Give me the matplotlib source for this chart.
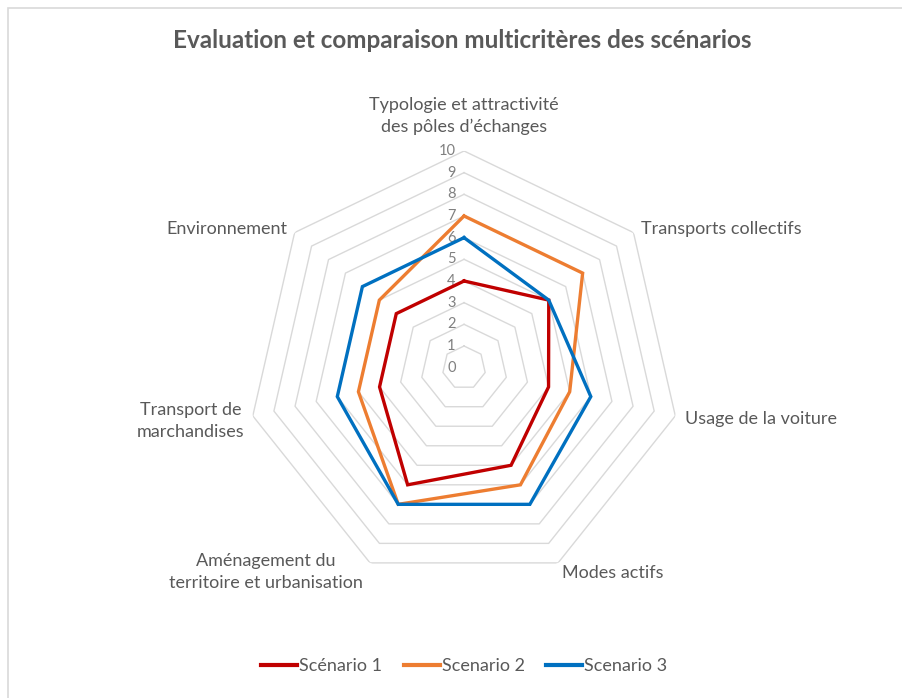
import numpy as np
import matplotlib.pyplot as plt
from matplotlib.patches import Rectangle
from matplotlib.lines import Line2D
import matplotlib.transforms as mtransforms

plt.rcParams["font.family"] = ["Lato", "DejaVu Sans"]

TEXT = "#595959"
GRID = "#D9D9D9"

criteres = [
    "Typologie et attractivité\ndes pôles d’échanges",
    "Transports collectifs",
    "Usage de la voiture",
    "Modes actifs",
    "Aménagement du\nterritoire et urbanisation",
    "Transport de\nmarchandises",
    "Environnement",
]
scenario_1 = [4, 5, 4, 5, 6, 4, 4]
scenario_2 = [7, 7, 5, 6, 7, 5, 5]
scenario_3 = [6, 5, 6, 7, 7, 6, 6]
noms = ["Scénario 1", "Scenario 2", "Scenario 3"]
couleurs = ["#C00000", "#ED7D31", "#0070C0"]
graduations = list(range(0, 11))

n = len(criteres)
angles = np.linspace(0, 2 * np.pi, n, endpoint=False)
angles_fermes = np.append(angles, angles[0])

fig = plt.figure(figsize=(9.03, 6.98), dpi=100)
fig.patches.append(Rectangle((8 / 903, -0.1), 1.2, 1 - 8.5 / 698 + 0.1,
                             transform=fig.transFigure, fill=False,
                             edgecolor=GRID, linewidth=1.2))

ax = fig.add_axes([0.2739, 0.1628, 0.48, 0.6209], projection="polar")
ax.set_theta_offset(np.pi / 2)
ax.set_theta_direction(-1)
ax.set_ylim(0, 10)
ax.grid(False)
ax.spines["polar"].set_visible(False)
ax.set_xticks([])
ax.set_yticks([])
ax.patch.set_alpha(0)

# anneaux heptagonaux
for g in graduations[1:]:
    ax.plot(angles_fermes, [g] * (n + 1), color=GRID, linewidth=1.0, zorder=1)

# graduations le long de l'axe vertical
decal = mtransforms.offset_copy(ax.transData, fig=fig, x=-6, y=0, units="points")
for g in graduations:
    ax.text(0, g, str(g), transform=decal, ha="right", va="center",
            fontsize=10.5, color="#808080")

series = [scenario_1, scenario_2, scenario_3]
for vals, nom, c in zip(series, noms, couleurs):
    v = list(vals) + [vals[0]]
    ax.plot(angles_fermes, v, color=c, linewidth=2.4, label=nom, zorder=3,
            solid_joinstyle="miter")

# étiquettes des critères
placements = [
    (10.4, "center", "bottom", "center"),
    (10.45, "left", "center", "left"),
    (10.45, "left", "center", "left"),
    (10.45, "left", "center", "left"),
    (10.45, "right", "center", "center"),
    (10.45, "right", "center", "center"),
    (10.45, "right", "center", "right"),
]
decalages = [(0, 5), (0, -1.5), (0, -1), (0, -1), (-2, 0), (1, -2), (0, -1.5)]
for a, lab, (r, ha, va, ma), (dx, dy) in zip(angles, criteres, placements, decalages):
    tr = mtransforms.offset_copy(ax.transData, fig=fig, x=dx, y=dy, units="points")
    ax.text(a, r, lab, transform=tr, ha=ha, va=va, multialignment=ma,
            fontsize=13, color=TEXT, linespacing=1.45)

fig.text(0.512, 0.942, "Evaluation et comparaison multicritères des scénarios",
         ha="center", va="center", fontsize=17.5, fontweight="bold", color=TEXT)

poignees = [Line2D([], [], color=c, linewidth=3) for c in couleurs]
fig.legend(poignees, noms, loc="center", bbox_to_anchor=(0.514, 0.046), ncol=3,
           frameon=False, fontsize=13, labelcolor=TEXT, handlelength=2.0,
           handletextpad=0.1, columnspacing=1.2)

fig.savefig("out.png", dpi=100)
